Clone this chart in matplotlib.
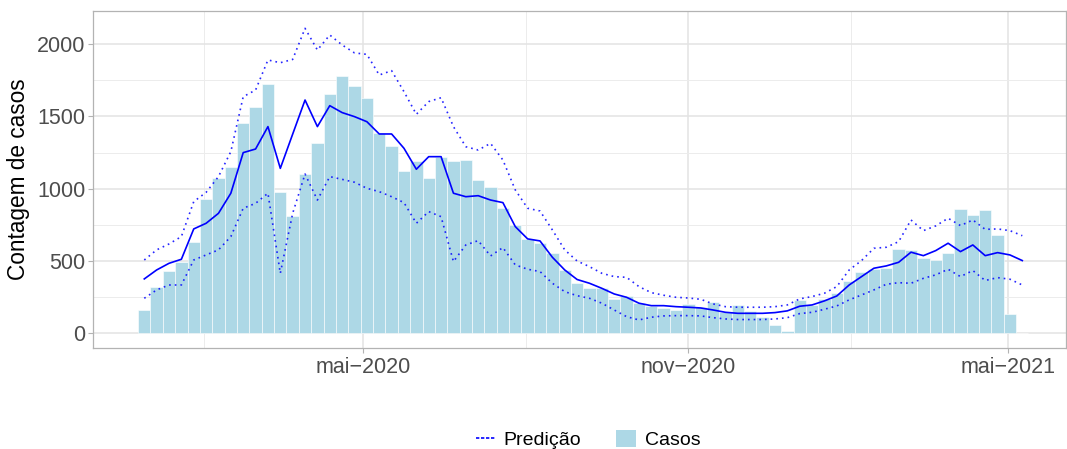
import matplotlib
matplotlib.use("Agg")
import matplotlib.pyplot as plt
import matplotlib.dates as mdates
from matplotlib.lines import Line2D
from matplotlib.patches import Patch
import pandas as pd

# weekly cases and model prediction (mean + interval)
casos = [161, 320, 431, 496, 632, 929, 1075, 1151, 1455, 1566, 1725, 978, 812, 1102,
         1317, 1656, 1780, 1711, 1628, 1388, 1296, 1123, 1192, 1075, 1220, 1192, 1199,
         1061, 1012, 867, 749, 653, 627, 556, 438, 348, 316, 315, 240, 258, 212, 189,
         178, 161, 203, 184, 217, 150, 196, 155, 115, 60, 16, 231, 196, 235, 277, 360,
         422, 445, 450, 581, 576, 521, 507, 556, 860, 819, 853, 680, 134, 5]

pred_media = [376, 438, 484, 512, 722, 761, 830, 969, 1250, 1275, 1430, 1141, 1378, 1614,
              1430, 1575, 1527, 1499, 1464, 1379, 1379, 1280, 1135, 1222, 1222, 969, 945,
              952, 922, 904, 738, 653, 639, 526, 438, 372, 346, 311, 272, 249, 208, 191,
              191, 184, 180, 175, 161, 145, 138, 138, 138, 143, 155, 187, 196, 224, 258,
              334, 392, 450, 466, 491, 561, 537, 572, 623, 565, 611, 537, 558, 542, 503]

pred_sup = [507, 577, 618, 669, 911, 975, 1084, 1257, 1637, 1683, 1891, 1872, 1895, 2110,
            1960, 2064, 1995, 1940, 1930, 1787, 1817, 1672, 1515, 1603, 1630, 1430, 1291,
            1268, 1314, 1199, 992, 865, 846, 715, 577, 500, 461, 415, 392, 387, 323, 281,
            263, 249, 244, 235, 203, 184, 180, 180, 180, 184, 196, 238, 254, 277, 323, 438,
            503, 588, 595, 634, 784, 710, 743, 796, 745, 784, 719, 722, 710, 675]

pred_inf = [242, 300, 334, 334, 507, 542, 577, 669, 865, 899, 969, 415, 830, 1102,
            922, 1084, 1065, 1045, 1003, 980, 945, 904, 761, 842, 807, 496, 611, 641,
            535, 593, 473, 443, 427, 346, 288, 260, 242, 208, 161, 115, 92, 111, 120, 122,
            122, 120, 108, 99, 95, 95, 95, 99, 108, 136, 145, 166, 189, 231, 265, 300, 339,
            350, 346, 380, 404, 443, 392, 434, 365, 385, 374, 334]

semanas = pd.date_range("2019-12-29", periods=len(casos), freq="7D")

plt.rcParams["font.family"] = ["Liberation Sans", "DejaVu Sans"]

fig = plt.figure(figsize=(10.67, 4.49), dpi=100)
ax = fig.add_axes([0.0872, 0.2243, 0.9123, 0.7512])

ax.bar(semanas, casos, width=7, color="#ADD8E6", edgecolor="white", linewidth=0.4, zorder=2)
ax.plot(semanas, pred_media, color="#0000FF", linewidth=1.2, zorder=3)
ax.plot(semanas, pred_sup, color="#0000FF", linewidth=1.2, linestyle=(0, (1, 2.4)), alpha=0.85, zorder=3)
ax.plot(semanas, pred_inf, color="#0000FF", linewidth=1.2, linestyle=(0, (1, 2.4)), alpha=0.85, zorder=3)

ax.set_xlim(pd.Timestamp("2019-11-30"), pd.Timestamp("2021-06-03"))
ax.set_ylim(-104, 2230)

ax.set_yticks([0, 500, 1000, 1500, 2000])
ax.set_yticks([250, 750, 1250, 1750], minor=True)
ax.xaxis.set_major_locator(mdates.MonthLocator(bymonth=[5, 11]))
ax.xaxis.set_minor_locator(mdates.MonthLocator(bymonth=[2, 8]))
meses = {5: "mai", 11: "nov"}
ax.xaxis.set_major_formatter(
    plt.FuncFormatter(lambda v, p: f"{meses[mdates.num2date(v).month]}\u2212{mdates.num2date(v).year}"))

ax.grid(which="major", color="#e3e3e3", linewidth=1.1, zorder=0)
ax.grid(which="minor", color="#ececec", linewidth=0.7, zorder=0)
ax.set_axisbelow(True)

for side in ["top", "left", "bottom", "right"]:
    ax.spines[side].set_color("#b3b3b3")
    ax.spines[side].set_linewidth(0.9)

ax.tick_params(axis="both", which="major", colors="#b3b3b3", labelcolor="#4d4d4d",
               labelsize=15.5, length=3.5, width=0.8)
ax.tick_params(axis="y", pad=2)
ax.tick_params(axis="x", pad=3)
ax.tick_params(which="minor", length=0)

ax.set_ylabel("Contagem de casos", fontsize=16.3, color="black", labelpad=5)

handles = [Line2D([0], [0], color="#0000FF", linestyle=(0, (2, 1)), linewidth=1.2),
           Patch(facecolor="#ADD8E6", edgecolor="none")]
fig.legend(handles, ["Predição", "Casos"], loc="center", bbox_to_anchor=(0.551, 0.021),
           ncol=2, frameon=False, fontsize=14, handlelength=1.0, handleheight=1.0,
           handletextpad=0.45, columnspacing=1.8)

plt.savefig("out.png", dpi=100)
plt.close()
